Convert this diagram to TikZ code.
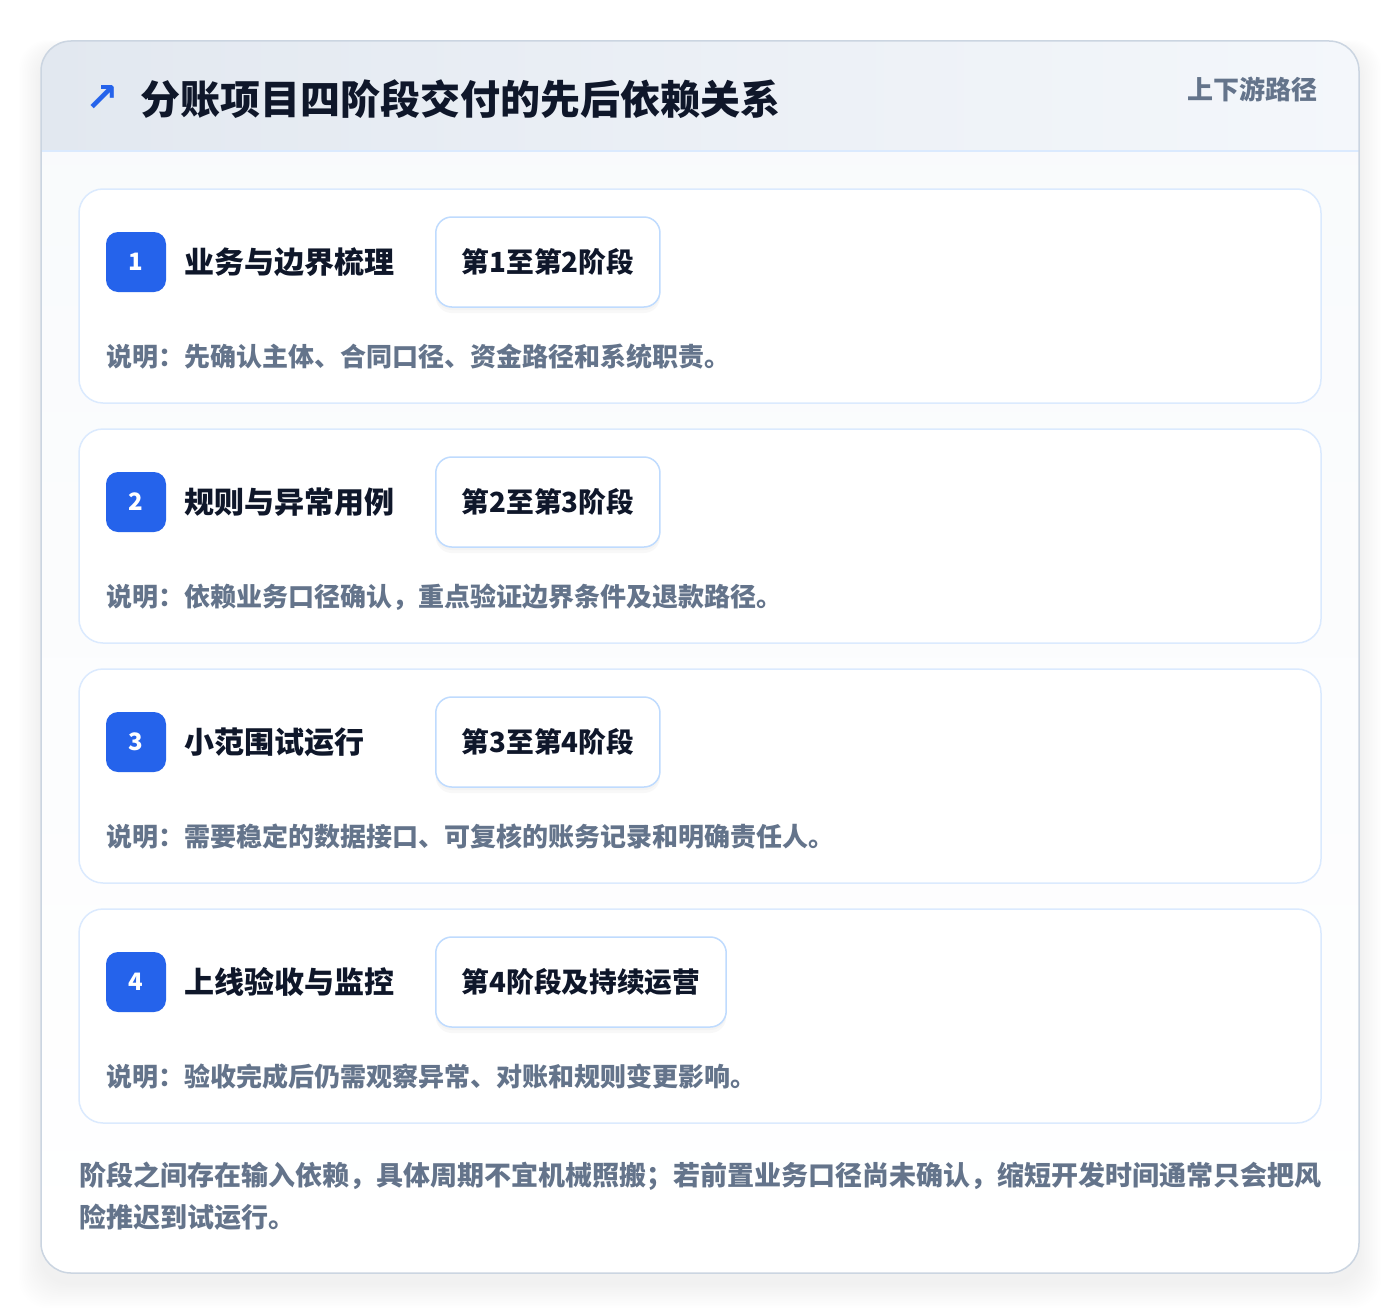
\documentclass[tikz,border=0pt]{standalone}
\usepackage{fontspec}
\setmainfont{Noto Sans CJK SC}
\newfontfamily\symfont{DejaVu Sans}
\usetikzlibrary{positioning,shadows}
\definecolor{navy}{HTML}{0F172A}
\definecolor{slate}{HTML}{64748B}
\definecolor{blueA}{HTML}{2563EB}
\definecolor{edge}{HTML}{DBEAFE}
\definecolor{pilledge}{HTML}{BFDBFE}
\definecolor{frame}{HTML}{CBD5E1}
\definecolor{headL}{HTML}{E2E8F0}
\definecolor{headR}{HTML}{F4F7FB}
\definecolor{bodybg}{HTML}{F8FAFC}

\begin{document}
\begin{tikzpicture}[x=1pt,y=-1pt,
  card/.style={draw=edge,line width=1.5pt,fill=white,rounded corners=24pt},
  badge/.style={fill=blueA,rounded corners=12pt,minimum size=60pt,inner sep=0pt,text=white,font=\bfseries\fontsize{24}{24}\selectfont},
  cardtitle/.style={inner sep=0pt,text=navy,font=\bfseries\fontsize{30}{30}\selectfont},
  pill/.style={draw=pilledge,line width=1.5pt,fill=white,rounded corners=16pt,minimum height=90pt,inner xsep=26pt,text=navy,font=\bfseries\fontsize{27.7}{28}\selectfont,
    drop shadow={opacity=0.05,shadow xshift=0pt,shadow yshift=-6pt},drop shadow={opacity=0.04,shadow xshift=0pt,shadow yshift=-3pt}},
  desc/.style={inner sep=0pt,text=slate,font=\bfseries\fontsize{26}{26}\selectfont}]
\useasboundingbox (0,0) rectangle (1400,1314);
\fill[white] (0,0) rectangle (1400,1314);
% soft shadow round the panel
\foreach \s in {1,...,14}
  \fill[black,opacity=0.0055,rounded corners=30pt] (41-1.6*\s,41-0.8*\s+10) rectangle (1359+1.6*\s,1273+1.8*\s+10);
% panel and header
\shade[top color=bodybg,bottom color=white,rounded corners=30pt] (41,41) rectangle (1359,1273);
\begin{scope}
\clip[rounded corners=30pt] (41,41) rectangle (1359,1273);
\shade[left color=headL,right color=headR] (41,41) rectangle (1359,151);
\end{scope}
\draw[edge,line width=1.5pt] (41,151) -- (1359,151);
\draw[frame,line width=1.5pt,rounded corners=30pt] (41,41) rectangle (1359,1273);
\node[text=blueA,font=\symfont\bfseries\fontsize{40}{40}\selectfont,inner sep=0pt] (icon) at (102,99) {↗};
\node[anchor=west,inner sep=0pt,text=navy,font=\bfseries\fontsize{40}{40}\selectfont] (heading) at (140,99) {分账项目四阶段交付的先后依赖关系};
\node[anchor=east,inner sep=0pt,text=slate,font=\bfseries\fontsize{26}{26}\selectfont] (tag) at (1318,89) {上下游路径};
% the four stages
\foreach \i/\yy/\name/\stage/\desctext in {
  1/189/业务与边界梳理/第1至第2阶段/说明：先确认主体、合同口径、资金路径和系统职责。,
  2/429/规则与异常用例/第2至第3阶段/说明：依赖业务口径确认，重点验证边界条件及退款路径。,
  3/669/小范围试运行/第3至第4阶段/说明：需要稳定的数据接口、可复核的账务记录和明确责任人。,
  4/909/上线验收与监控/第4阶段及持续运营/说明：验收完成后仍需观察异常、对账和规则变更影响。}{
  \draw[card] (79,\yy) rectangle (1321,\yy+214);
  \node[badge] (badge\i) at (136,\yy+73) {\i};
  \node[cardtitle,right=18pt of badge\i] (title\i) {\name};
  \node[pill,anchor=west] (pill\i) at (435,\yy+73) {\stage};
  \node[desc,anchor=west] (desc\i) at (106,\yy+168) {\desctext};
}
\node[anchor=west,align=left,inner sep=0pt,text=slate,font=\bfseries\fontsize{27}{42}\selectfont] (note) at (79,1196)
  {阶段之间存在输入依赖，具体周期不宜机械照搬；若前置业务口径尚未确认，缩短开发时间通常只会把风\\险推迟到试运行。};
\end{tikzpicture}
\end{document}
